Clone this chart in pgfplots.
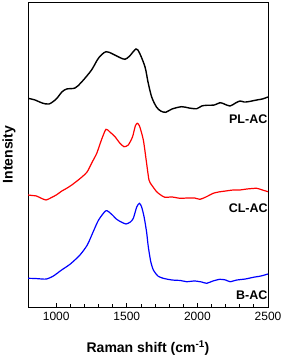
\documentclass[border=0pt]{standalone}
\usepackage{pgfplots}
\pgfplotsset{compat=1.18}
\usepackage{fontspec}
\setmainfont{Liberation Sans}
\begin{document}
\begin{tikzpicture}[x=1pt,y=1pt]
\begin{axis}[
  at={(28pt,51pt)}, anchor=south west,
  scale only axis, width=240pt, height=305pt,
  xmin=800, xmax=2500, ymin=-307, ymax=-2,
  xtick={1000,1500,2000,2500},
  minor x tick num=4,
  ytick=\empty,
  tick align=inside,
  xtick pos=bottom,
  major tick length=3.5pt, minor tick length=3pt,
  tick style={black, line width=0.8pt},
  axis line style={line width=0.9pt},
  ticklabel style={font=\fontsize{12}{14}\selectfont, yshift=-1.5pt},
  /pgf/number format/assume math mode=true,
  /pgf/number format/1000 sep={},
  xlabel={\bfseries Raman shift (cm\textsuperscript{-1})},
  xlabel style={font=\fontsize{14}{16}\selectfont, at={(axis description cs:0.5,-0.134)}, anchor=center},
  ylabel={\bfseries Intensity},
  ylabel style={font=\fontsize{14}{16}\selectfont, at={(axis description cs:-0.079,0.5)}, anchor=center},
  clip=true,
]
\addplot[black, line width=1.4pt, smooth] coordinates {
(800,-98.3)(850,-100)(900,-103)(949,-104)(1000,-99)(1040,-92)(1074,-89)(1133,-88)(1180,-82)(1250,-70)(1300,-58)(1352,-51.7)(1400,-54)(1450,-57.5)(1487,-59.3)(1520,-56)(1565,-49)(1590,-53)(1629,-67)(1650,-82)(1676,-97)(1710,-107)(1740,-111)(1775,-112.3)(1820,-109)(1889,-106.7)(1940,-108)(1995,-108.7)(2030,-106)(2066,-105.3)(2120,-105)(2160,-102.7)(2190,-104)(2231,-106)(2270,-103)(2302,-101)(2330,-102)(2360,-101.7)(2420,-100)(2460,-99)(2500,-97)
};
\addplot[red, line width=1.2pt, smooth, tension=0.4] coordinates {
(800,-195)(830,-195.5)(860,-196)(890,-198)(927,-200)(960,-198)(1000,-195)(1040,-191)(1074,-188.3)(1110,-185)(1156,-180)(1190,-176)(1220,-171.7)(1255,-162)(1287,-153.3)(1320,-140)(1352,-129.3)(1380,-132)(1416,-136.7)(1450,-143)(1480,-146.7)(1510,-145)(1540,-137)(1560,-126)(1574,-123.3)(1590,-126)(1617,-140)(1637,-160)(1657,-180)(1676,-185)(1711,-191.7)(1740,-195)(1770,-197.3)(1820,-197)(1877,-198.3)(1930,-198)(1980,-198)(2018,-199.3)(2060,-197)(2112,-193.3)(2150,-192)(2200,-191)(2254,-190)(2300,-190)(2350,-189)(2420,-188.3)(2460,-190)(2500,-191.7)
};
\addplot[blue, line width=1.2pt, smooth, tension=0.4] coordinates {
(800,-278.3)(850,-278.5)(900,-279)(932,-279)(980,-276)(1038,-270)(1100,-264)(1168,-255)(1220,-245)(1262,-231.7)(1300,-220)(1352,-210.7)(1390,-214)(1428,-219.3)(1460,-222)(1494,-224)(1525,-222)(1546,-218.3)(1570,-207)(1589,-203.3)(1605,-207)(1622,-216.7)(1640,-232)(1652,-246.7)(1670,-262)(1688,-270)(1720,-276)(1758,-278.3)(1820,-280)(1880,-280.5)(1924,-281.7)(1980,-281)(2030,-282)(2066,-283.3)(2110,-281)(2160,-279.3)(2200,-280)(2231,-281.7)(2280,-280)(2340,-279)(2396,-277.3)(2450,-276)(2500,-274)
};
\node[font=\bfseries\fontsize{12.5}{14}\selectfont] at (axis cs:2360,-119.3) {PL-AC};
\node[font=\bfseries\fontsize{12.5}{14}\selectfont] at (axis cs:2360,-208.3) {CL-AC};
\node[font=\bfseries\fontsize{12.5}{14}\selectfont] at (axis cs:2385,-295) {B-AC};
\end{axis}
\pgfresetboundingbox
\path[use as bounding box] (0,0) rectangle (283,358);
\end{tikzpicture}
\end{document}
